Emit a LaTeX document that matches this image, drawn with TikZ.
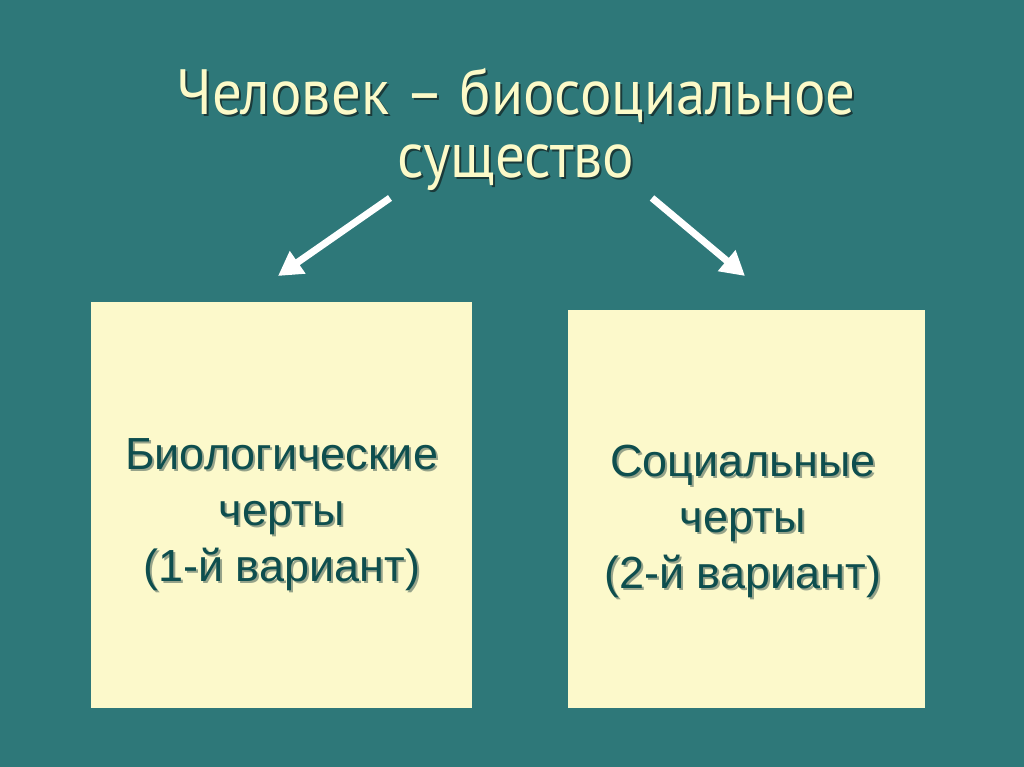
\documentclass[tikz,border=0pt]{standalone}
\usepackage{fontspec}
\setmainfont{Liberation Sans}
\newfontfamily\titlefont[FakeStretch=0.92]{PT Sans}
\usetikzlibrary{arrows.meta}
\definecolor{bg}{HTML}{2E7879}
\definecolor{boxfill}{HTML}{FCF9CB}
\definecolor{boxtext}{HTML}{0E4E4E}
\definecolor{titletext}{HTML}{FCFAC8}
\definecolor{shadow}{HTML}{1A3A3A}
\tikzset{
  panel/.style={fill=boxfill, draw=none, anchor=north west, inner sep=0pt},
  paneltext/.style={font=\fontsize{45}{56}\selectfont, text=boxtext, align=center},
  textshadow/.style={font=\fontsize{45}{56}\selectfont, text=shadow!45!boxfill, align=center},
  titlestyle/.style={font=\titlefont\fontsize{64}{63}\selectfont, text=titletext, align=center},
  titleshadow/.style={font=\titlefont\fontsize{64}{63}\selectfont, text=shadow, align=center},
  whitearrow/.style={draw=white, line width=7pt, -{Triangle[length=24pt,width=26pt]}}
}
\begin{document}
\begin{tikzpicture}[x=1pt,y=1pt]
\fill[bg] (0,0) rectangle (1024,767);
\useasboundingbox (0,0) rectangle (1024,767);
% title
\node[titleshadow] at (518,636) {Человек – биосоциальное\\существо};
\node[titlestyle] (title) at (516,638) {Человек – биосоциальное\\существо};
% boxes
\node[panel, minimum width=381pt, minimum height=406pt] (left) at (91,465) {};
\node[panel, minimum width=357pt, minimum height=398pt] (right) at (568,457) {};
% box texts
\node[textshadow] at ([xshift=2pt,yshift=-2pt]left.center) [yshift=-9pt] {Биологические\\черты\\ (1-й вариант)};
\node[paneltext] (lt) at (left.center) [yshift=-9pt] {Биологические\\черты\\ (1-й вариант)};
\node[textshadow] at ([xshift=2pt,yshift=-2pt]right.center) [yshift=-12pt,xshift=-4pt] {Социальные\\черты\\ (2-й вариант)};
\node[paneltext] (rt) at (right.center) [yshift=-12pt,xshift=-4pt] {Социальные\\черты\\ (2-й вариант)};
% arrows
\coordinate (la) at (390,569);
\coordinate (lb) at (278,491);
\coordinate (ra) at (652,569);
\coordinate (rb) at (745,491);
\draw[whitearrow] (la) -- (lb);
\draw[whitearrow] (ra) -- (rb);
\end{tikzpicture}
\end{document}
